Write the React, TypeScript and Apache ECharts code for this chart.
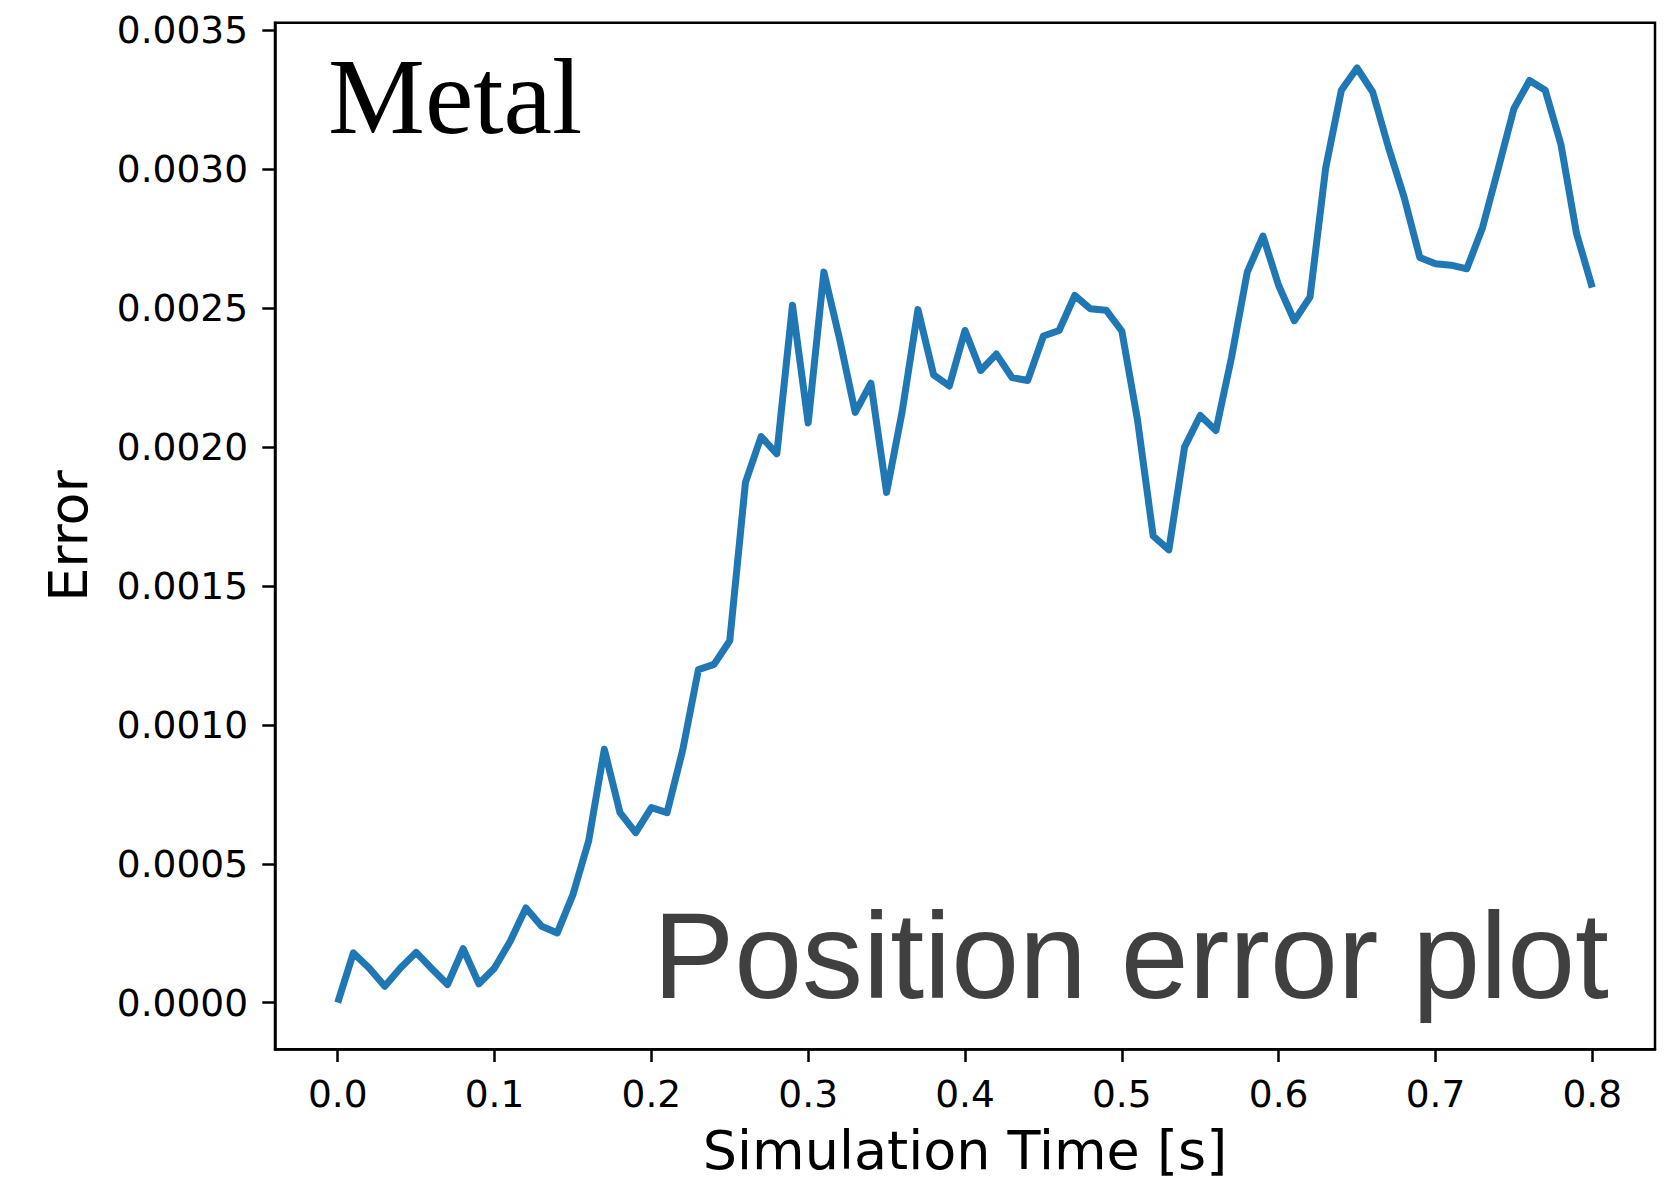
import React, { useEffect, useRef } from "react";
import * as echarts from "echarts";

const times = [
  0.0, 0.01, 0.02, 0.03, 0.04, 0.05, 0.06, 0.07, 0.08, 0.09,
  0.1, 0.11, 0.12, 0.13, 0.14, 0.15, 0.16, 0.17, 0.18, 0.19,
  0.2, 0.21, 0.22, 0.23, 0.24, 0.25, 0.26, 0.27, 0.28, 0.29,
  0.3, 0.31, 0.32, 0.33, 0.34, 0.35, 0.36, 0.37, 0.38, 0.39,
  0.4, 0.41, 0.42, 0.43, 0.44, 0.45, 0.46, 0.47, 0.48, 0.49,
  0.5, 0.51, 0.52, 0.53, 0.54, 0.55, 0.56, 0.57, 0.58, 0.59,
  0.6, 0.61, 0.62, 0.63, 0.64, 0.65, 0.66, 0.67, 0.68, 0.69,
  0.7, 0.71, 0.72, 0.73, 0.74, 0.75, 0.76, 0.77, 0.78, 0.79,
  0.8,
];

const errors = [
  0.0, 0.000179, 0.000125, 0.000059, 0.000125, 0.000181, 0.000122, 0.000065, 0.000194, 0.000068,
  0.000125, 0.000221, 0.000341, 0.000275, 0.000251, 0.000389, 0.000582, 0.000912, 0.000684, 0.000612,
  0.000702, 0.000684, 0.00091, 0.001199, 0.001218, 0.001303, 0.001873, 0.002038, 0.001976, 0.002511,
  0.002087, 0.00263, 0.00239, 0.002125, 0.00223, 0.001837, 0.00213, 0.002495, 0.00226, 0.00222,
  0.00242, 0.002276, 0.002335, 0.00225, 0.00224, 0.0024, 0.00242, 0.002546, 0.002498, 0.002493,
  0.002418, 0.002098, 0.00168, 0.00163, 0.002, 0.002114, 0.00206, 0.002324, 0.00263, 0.00276,
  0.002582, 0.002455, 0.00254, 0.003005, 0.003285, 0.003365, 0.003278, 0.00308, 0.0029, 0.002683,
  0.00266, 0.002655, 0.002642, 0.00279, 0.003002, 0.003218, 0.00332, 0.003285, 0.00309, 0.002768,
  0.002575,
];

const xTicks = [0.0, 0.1, 0.2, 0.3, 0.4, 0.5, 0.6, 0.7, 0.8];
const yTicks = [0.0, 0.0005, 0.001, 0.0015, 0.002, 0.0025, 0.003, 0.0035];

const TITLE_TEXT = "Metal";
const SUBTITLE_TEXT = "Position error plot";
const X_NAME = "Simulation Time [s]";
const Y_NAME = "Error";

export default function App() {
  const ref = useRef<HTMLDivElement>(null);

  useEffect(() => {
    if (!ref.current) return;
    const chart = echarts.init(ref.current, undefined, { renderer: "svg" });
    const pts = times.map((t, i) => [t, errors[i]]);
    const tickFont = { fontFamily: "DejaVu Sans", fontSize: 37.5, color: "#000" };

    chart.setOption({
      animation: false,
      backgroundColor: "#fff",
      grid: {
        left: 275,
        right: 19,
        top: 22.7,
        bottom: 135.7,
        show: true,
        borderColor: "#000",
        borderWidth: 2.5,
        backgroundColor: "transparent",
      },
      xAxis: {
        type: "value",
        min: -0.04,
        max: 0.84,
        name: X_NAME,
        nameLocation: "middle",
        nameGap: 74,
        nameTextStyle: { fontFamily: "DejaVu Sans", fontSize: 54, color: "#000" },
        axisLine: { show: true, onZero: false, lineStyle: { color: "#000", width: 2.5 } },
        axisTick: {
          show: true,
          customValues: xTicks,
          length: 12.7,
          lineStyle: { color: "#000", width: 2.5 },
        },
        axisLabel: {
          customValues: xTicks,
          margin: 26,
          formatter: (v: number) => v.toFixed(1),
          ...tickFont,
        },
        splitLine: { show: false },
      },
      yAxis: {
        type: "value",
        min: -0.000168,
        max: 0.003528,
        name: Y_NAME,
        nameLocation: "middle",
        nameGap: 180,
        nameRotate: 90,
        nameTextStyle: { fontFamily: "DejaVu Sans", fontSize: 54, color: "#000" },
        axisLine: { show: true, onZero: false, lineStyle: { color: "#000", width: 2.5 } },
        axisTick: {
          show: true,
          customValues: yTicks,
          length: 12.7,
          lineStyle: { color: "#000", width: 2.5 },
        },
        axisLabel: {
          customValues: yTicks,
          margin: 27,
          formatter: (v: number) => v.toFixed(4),
          ...tickFont,
        },
        splitLine: { show: false },
      },
      series: [
        {
          type: "line",
          data: pts,
          showSymbol: false,
          symbol: "none",
          lineStyle: { color: "#1f77b4", width: 7, cap: "butt", join: "round" },
          z: 3,
        },
      ],
      graphic: [
        {
          type: "text",
          x: 328,
          y: 96,
          style: {
            text: TITLE_TEXT,
            font: "109px 'Liberation Serif'",
            fill: "#000",
            textAlign: "left",
            textVerticalAlign: "middle",
          },
          z: 10,
        },
        {
          type: "text",
          x: 1609,
          y: 956,
          style: {
            text: SUBTITLE_TEXT,
            font: "122px 'Liberation Sans'",
            fill: "#404040",
            textAlign: "right",
            textVerticalAlign: "middle",
          },
          z: 10,
        },
      ],
    });

    return () => chart.dispose();
  }, []);

  return (
    <div
      ref={ref}
      style={{ position: "fixed", left: 0, top: 0, width: 1674, height: 1185, background: "#fff" }}
    />
  );
}
